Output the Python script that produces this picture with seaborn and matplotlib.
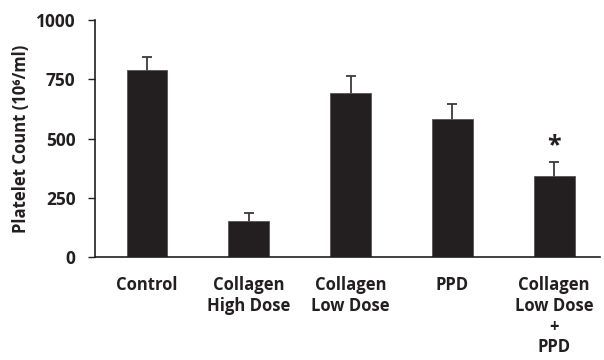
import pandas as pd
import numpy as np
import matplotlib
matplotlib.use('Agg')
import matplotlib.pyplot as plt
import seaborn as sns

# values
groups = ['Control', 'Collagen\nHigh Dose', 'Collagen\nLow Dose', 'PPD',
          'Collagen\nLow Dose\n+\nPPD']
counts = [787, 152, 690, 584, 340]
errors = [58, 32, 75, 63, 62]
y_ticks = [0, 250, 500, 750, 1000]

df = pd.DataFrame({'group': groups, 'count': counts, 'err': errors})

sns.set_style('white')
plt.rcParams['font.family'] = ['Open Sans', 'DejaVu Sans']
plt.rcParams['font.weight'] = 'bold'

fig = plt.figure(figsize=(6.04, 3.6), dpi=100)
ax = fig.add_axes([95 / 604, 1 - 257 / 360, 505 / 604, 237 / 360])

bar_color = '#231f20'
sns.barplot(data=df, x='group', y='count', color=bar_color, width=0.4,
            saturation=1, errorbar=None, ax=ax, edgecolor='#555555',
            linewidth=0.6, zorder=2)

# upper error bars only: draw symmetric ones behind the bars
x = np.arange(len(groups))
ax.errorbar(x, df['count'], yerr=df['err'],
            fmt='none', ecolor='#3a3a3a', elinewidth=1.3, capsize=3.5,
            capthick=1.3, zorder=1)

# significance marker
ax.text(4, df['count'][4] + df['err'][4] + 14, '*', ha='center', va='bottom',
        fontsize=18, fontweight='bold', color=bar_color)

ax.set_ylim(0, 1000)
ax.set_xlim(-0.51, 4.45)
ax.set_yticks(y_ticks)
ax.set_yticklabels([str(t) for t in y_ticks], fontsize=12.5, fontweight='bold',
                   color='#231f20')
ax.set_xticks(x)
ax.set_xticklabels(groups, fontsize=12, fontweight='bold', color='#231f20',
                   linespacing=1.19, va='top')
ax.tick_params(axis='y', direction='out', length=5, width=1, color='#231f20',
               pad=9, left=True)
ax.tick_params(axis='x', length=0, pad=14)

ax.set_xlabel('')
ax.set_ylabel('Platelet Count (10⁶/ml)', fontsize=12, fontweight='bold',
              color='#231f20', labelpad=4)

for s in ['top', 'right']:
    ax.spines[s].set_visible(False)
for s in ['left', 'bottom']:
    ax.spines[s].set_color('#231f20')
    ax.spines[s].set_linewidth(1.2)

fig.savefig('out.png', dpi=100)
